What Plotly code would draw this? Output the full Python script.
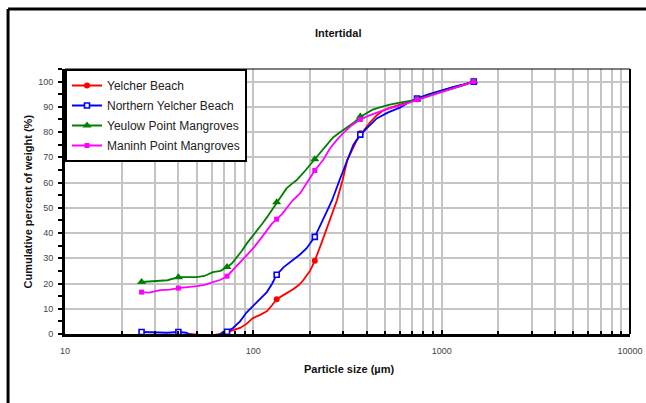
import plotly.graph_objects as go

# ---------------- data ----------------
red_x = [46, 50, 55, 62, 67, 72.5, 78, 85, 92, 99.5, 108, 118, 126, 133, 145, 162, 175, 184, 200, 212,
         230, 255, 278, 298, 315, 335, 354, 385, 416, 450, 488, 540, 600, 660, 740, 850, 980, 1150, 1300, 1480]
red_y = [0, -0.3, -0.5, -0.4, 0, 0.6, 1.5, 2.4, 4, 6.3, 7.5, 9, 11.5, 13.8, 15.5, 17.6, 19.5, 21.3, 25, 29,
         36, 45, 53, 61, 68.8, 73, 76.7, 80.5, 83.8, 86.5, 88.5, 89.8, 90.8, 92, 93, 94.8, 96.3, 97.8, 98.8, 100]

blue_x = [25.5, 30, 35, 40, 44, 47, 55, 62, 66, 69, 72.5, 78, 85, 92, 98, 108, 118, 126, 133, 145, 162,
          177, 192, 212, 230, 245, 262, 287, 315, 340, 370, 410, 452, 520, 600, 670, 735, 850, 980, 1150, 1300, 1480]
blue_y = [0.8, 0.5, 0.5, 0.8, 0.5, -0.5, -0.6, -0.6, -0.5, 0.8, 0.9, 2.4, 5, 8.5, 10.5, 13.5, 16.6, 20, 23.5, 26.5, 29.2,
          31.5, 34, 38.5, 44, 48.5, 53, 61, 68.8, 75, 79, 82.5, 85.4, 87.8, 89.7, 91.8, 93.3, 95, 96.4, 97.8, 98.8, 100]

green_x = [25.5, 30, 35, 40, 45, 50, 55, 61, 67, 72.5, 77, 82, 87, 92.6, 98, 104, 111, 118, 125, 133, 142, 150,
           160, 170, 185, 200, 212, 230, 250, 265, 290, 315, 345, 373, 400, 430, 480, 530, 600, 660, 740, 850,
           980, 1150, 1300, 1480]
green_y = [20.6, 21, 21.3, 22.5, 22.5, 22.5, 23, 24.5, 25, 26.5, 28, 30.4, 33, 36, 38.5, 41, 43.5, 46.2, 49, 52.2,
           55, 57.7, 59.5, 61, 64, 67, 69.2, 72.5, 75.5, 77.9, 80, 81.8, 84, 86.2, 87.5, 88.9, 90, 90.9, 91.7, 92.2,
           92.9, 94.5, 95.7, 97.3, 98.5, 100]

mag_x = [25.5, 28, 32, 36, 40, 45, 50, 55, 61, 67, 72.5, 77, 82, 87, 92.6, 100, 108, 118, 125, 133, 142, 150,
         162, 177, 195, 212, 235, 255, 275, 298, 330, 370, 410, 452, 520, 600, 660, 740, 850, 1000, 1200, 1480]
mag_y = [16.6, 16.4, 17.4, 17.6, 18.2, 18.5, 19, 19.5, 20.6, 21.5, 22.9, 25, 27.3, 29, 31.2, 34, 37.2, 41, 43.5,
         45.5, 47.5, 49.8, 53, 55.7, 60.5, 64.8, 69, 73.5, 76.5, 79.4, 82.5, 85, 86.5, 87.7, 89.3, 90.5, 91.5,
         92.9, 94.3, 96, 97.8, 100]

# sample (marker) points
marker_x = [25.5, 40, 72.5, 133, 212, 370, 740, 1480]
red_mx = [72.5, 133, 212, 370, 740, 1480]
red_my = [0.6, 13.8, 29, 79.5, 93, 100]
blue_my = [0.8, 0.8, 0.9, 23.5, 38.5, 79, 93.3, 100]
green_my = [20.6, 22.5, 26.5, 52.2, 69.2, 86.2, 92.9, 100]
mag_my = [16.6, 18.2, 22.9, 45.5, 64.8, 85, 92.9, 100]

names = ["Yelcher Beach", "Northern Yelcher Beach", "Yeulow Point Mangroves", "Maninh Point Mangroves"]
x_ticks = [10, 100, 1000, 10000]

# ---------------- figure ----------------
FONT = "Liberation Sans, Arial, sans-serif"
series = [
    (red_x, red_y, red_mx, red_my, "#ff0000", dict(symbol="circle", size=6, color="#ff0000")),
    (blue_x, blue_y, marker_x, blue_my, "#0000ff",
     dict(symbol="square", size=5, color="white", line=dict(color="#0000ff", width=1.6))),
    (green_x, green_y, marker_x, green_my, "#008000", dict(symbol="triangle-up", size=8, color="#008000")),
    (mag_x, mag_y, marker_x, mag_my, "#ff00ff", dict(symbol="square", size=5, color="#ff00ff")),
]

fig = go.Figure()
for name, (lx, ly, mx, my, col, mk) in zip(names, series):
    fig.add_trace(go.Scatter(x=lx, y=ly, mode="lines", line=dict(color=col, width=1.8),
                             showlegend=False, legendgroup=name, hoverinfo="skip"))
    fig.add_trace(go.Scatter(x=mx, y=my, mode="markers", marker=mk, showlegend=False,
                             legendgroup=name))
    fig.add_trace(go.Scatter(x=[None], y=[None], mode="lines+markers", name=name,
                             line=dict(color=col, width=2), marker=mk, legendgroup=name))

fig.update_layout(
    width=646, height=403,
    margin=dict(l=65, r=15.5, t=69, b=69, autoexpand=False),
    paper_bgcolor="white", plot_bgcolor="white",
    font=dict(family=FONT, size=9, color="#333333"),
    showlegend=True,
    legend=dict(x=0, y=1, xanchor="left", yanchor="top", bgcolor="white",
                bordercolor="black", borderwidth=2, tracegroupgap=1,
                font=dict(family=FONT, size=12, color="#222222"),
                itemwidth=30),
)

fig.update_xaxes(
    type="log", range=[1, 4], tickvals=x_ticks, ticktext=[str(v) for v in x_ticks],
    showgrid=True, gridcolor="#c4c4c4", gridwidth=1.5,
    ticks="inside", ticklen=4, tickcolor="black", tickwidth=1.5,
    minor=dict(dtick="D1", showgrid=True, gridcolor="#c4c4c4", gridwidth=1.5,
               ticks="inside", ticklen=3, tickcolor="black", tickwidth=1.5),
    showline=True, linecolor="black", linewidth=3, zeroline=False,
    tickfont=dict(size=9, color="#444444"), ticklabelstandoff=6,
)
fig.update_yaxes(
    range=[0, 105], dtick=10, tick0=0,
    showgrid=True, gridcolor="#c4c4c4", gridwidth=1.5,
    ticks="outside", ticklen=4, tickcolor="black", tickwidth=1.5,
    minor=dict(dtick=5, ticks="outside", ticklen=4, tickcolor="black", tickwidth=1.5, showgrid=False),
    showline=True, linecolor="black", linewidth=3, zeroline=False,
    tickfont=dict(size=9, color="#444444"), ticklabelstandoff=3,
)

# plot-area border (top & right)
fig.add_shape(type="line", xref="paper", yref="paper", x0=0, x1=1, y0=1, y1=1,
              line=dict(color="black", width=1.2))
fig.add_shape(type="line", xref="paper", yref="paper", x0=1, x1=1, y0=0, y1=1,
              line=dict(color="black", width=2))
# outer chart frame (left & top visible)
fig.add_shape(type="line", xref="paper", yref="paper", x0=-0.1008, x1=1.1, y0=1.2264, y1=1.2264,
              line=dict(color="black", width=3))
fig.add_shape(type="line", xref="paper", yref="paper", x0=-0.1008, x1=-0.1008, y0=-0.3, y1=1.2264,
              line=dict(color="black", width=3))

fig.add_annotation(text="<b>Intertidal</b>", xref="paper", yref="paper", x=0.4828, y=1.136,
                   xanchor="center", yanchor="middle",
                   showarrow=False, font=dict(family=FONT, size=11, color="#111111"))
fig.add_annotation(text="<b>Particle size (µm)</b>", xref="paper", yref="paper", x=0.502, y=-0.132,
                   xanchor="center", yanchor="middle",
                   showarrow=False, font=dict(family=FONT, size=11, color="#111111"))
fig.add_annotation(text="<b>Cumulative percent of weight (%)</b>", xref="paper", yref="paper",
                   x=-0.0672, y=0.5, textangle=-90, showarrow=False,
                   xanchor="center", yanchor="middle",
                   font=dict(family=FONT, size=11, color="#111111"))

fig.write_html("out.html", config={"displayModeBar": False},
               post_script="document.body.style.margin='0';document.body.style.overflow='hidden';")
